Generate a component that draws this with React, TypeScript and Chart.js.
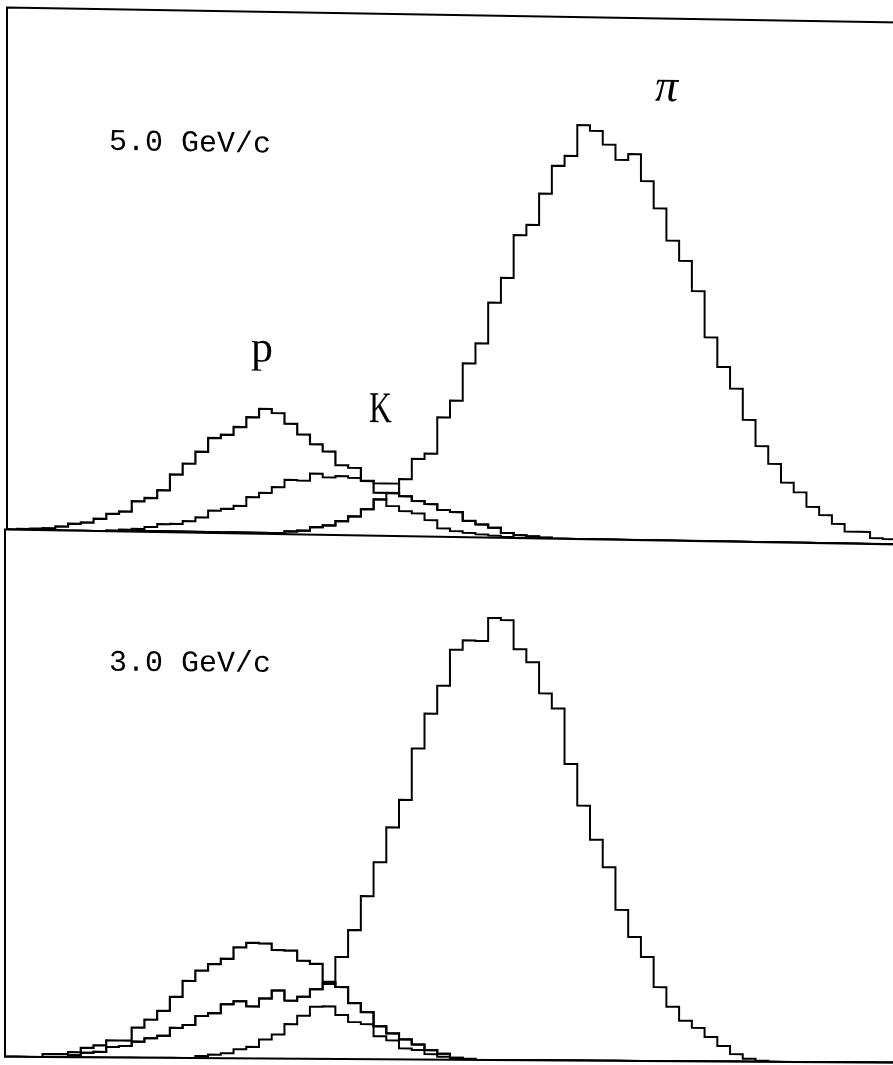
import React, { useEffect, useRef } from "react";
import { Chart, registerables } from "chart.js";

Chart.register(...registerables);

// Bin index range shown on the horizontal axis (bin j spans [j, j+1]).
const X_MIN = 0.2;
const X_MAX = 70.35;
const CANVAS_W = 900;

// 5.0 GeV/c — counts per bin, bins 0..69
const proton5 = [
  0, 1, 1.5, 2, 4, 7, 8.5, 12.5, 17.5, 20, 30.5, 34, 42, 58, 69, 81, 95, 98.5, 106.5, 116.5,
  125, 121, 110.5, 100, 90.5, 83.5, 70, 67.5, 54.5, 43, 43, 40, 35.5, 32.5, 27, 25, 16.5, 13, 10, 5,
  3, 2, 1, 0, 0, 0, 0, 0, 0, 0, 0, 0, 0, 0, 0, 0, 0, 0, 0, 0,
  0, 0, 0, 0, 0, 0, 0, 0, 0, 0,
];
const broad5 = [
  0, 0, 0, 0, 0, 0, 0, 0, 1, 2, 3, 5, 8, 8.5, 11.5, 15.5, 22.5, 24.5, 27.5, 36.5,
  41, 47, 54.5, 54, 61, 57.5, 59, 57.5, 55, 52.5, 52.5, 40, 35.5, 32.5, 27, 25, 16.5, 13, 10, 5,
  3, 2, 1, 0, 0, 0, 0, 0, 0, 0, 0, 0, 0, 0, 0, 0, 0, 0, 0, 0,
  0, 0, 0, 0, 0, 0, 0, 0, 0, 0,
];
const kaon5 = [
  0, 0, 0, 0, 0, 0, 0, 0, 0, 0, 1, 1, 1, 1, 1, 1, 1, 1, 1, 1,
  1, 1, 3, 4, 7.5, 9.5, 14, 19, 26.5, 36.5, 30, 25, 23, 16.5, 8.5, 6, 4.5, 3, 2, 1,
  0, 0, 0, 0, 0, 0, 0, 0, 0, 0, 0, 0, 0, 0, 0, 0, 0, 0, 0, 0,
  0, 0, 0, 0, 0, 0, 0, 0, 0, 0,
];
const pion5 = [
  0, 0, 0, 0, 0, 0, 0, 0, 0, 0, 1, 1, 1, 1, 1, 1, 1, 1, 1, 1,
  1, 1, 3, 4, 7.5, 9.5, 14, 19, 26.5, 36.5, 43, 57, 77.5, 83, 119.5, 136.5, 174, 194, 235, 260,
  303, 313.5, 345, 373, 383, 414, 408.5, 395, 380, 386, 359, 332, 300, 280, 250, 204, 174.5, 153, 122, 96,
  78.5, 60, 50.5, 36, 28, 19.5, 12, 12, 6, 5,
];

// 3.0 GeV/c — counts per bin, bins 0..69
const proton3 = [
  0, 0, 0, 3, 3, 5, 9.5, 12, 17, 17, 30, 38, 47, 61, 77, 87.5, 94, 99.5, 111, 115.5,
  115, 108.5, 108, 98, 95, 77, 72, 56, 47, 33, 26, 20, 15, 9.5, 6, 2, 1, 0, 0, 0,
  0, 0, 0, 0, 0, 0, 0, 0, 0, 0, 0, 0, 0, 0, 0, 0, 0, 0, 0, 0,
  0, 0, 0, 0, 0, 0, 0, 0, 0, 0,
];
const broad3 = [
  0, 0, 0, 0, 0, 2, 4.5, 5.5, 10.5, 11.5, 16, 19.5, 22, 30, 33, 42, 45, 54, 57, 52,
  60, 68, 58, 62, 69.5, 75, 72, 56, 47, 33, 26, 20, 15, 9.5, 6, 2, 1, 0, 0, 0,
  0, 0, 0, 0, 0, 0, 0, 0, 0, 0, 0, 0, 0, 0, 0, 0, 0, 0, 0, 0,
  0, 0, 0, 0, 0, 0, 0, 0, 0, 0,
];
const kaon3 = [
  0, 0, 0, 0, 0, 0, 0, 0, 0, 0, 0, 0, 0, 0, 0, 2, 3.5, 5, 9, 11.5,
  19, 24, 34.5, 43, 52, 52.5, 44, 37, 35, 23, 19, 11, 9.5, 5.5, 3, 1.5, 1, 0, 0, 0,
  0, 0, 0, 0, 0, 0, 0, 0, 0, 0, 0, 0, 0, 0, 0, 0, 0, 0, 0, 0,
  0, 0, 0, 0, 0, 0, 0, 0, 0, 0,
];
const pion3 = [
  0, 0, 0, 0, 0, 2, 4.5, 5.5, 10.5, 11.5, 16, 19.5, 22, 30, 33, 42, 45, 54, 57, 52,
  60, 68, 58, 62, 69.5, 75.5, 102, 129, 163, 197, 232, 259.5, 311, 346, 374, 410, 419.5, 419, 442, 440,
  411, 398, 367, 352, 296.5, 255, 221, 193.5, 151, 124, 104, 74, 54.5, 40.5, 33.5, 24.5, 15.5, 7.5, 3, 1,
  0, 0, 0, 0, 0, 0, 0, 0, 0, 0,
];

type Series = { name: string; values: number[]; width: number };
type TextLabel = { text: string; x: number; y: number; font: string; scaleX?: number };

// Histogram outline: one point per bin's left edge plus a closing point.
function histPoints(values: number[]) {
  const pts = values.map((v, j) => ({ x: j, y: v }));
  pts.push({ x: values.length, y: values[values.length - 1] });
  return pts;
}

// Draws the whole panel with a slight vertical shear (plotter sheet not square),
// plus the frame lines and the text labels.
function panelPlugin(drawTop: boolean, slantDeg: number, labels: TextLabel[]) {
  const k = Math.tan((slantDeg * Math.PI) / 180);
  return {
    id: "panelDecor",
    beforeDraw(chart: any) {
      const ctx = chart.ctx;
      ctx.save();
      ctx.transform(1, k, 0, 1, 0, 0);
    },
    beforeDatasetsDraw(chart: any) {
      const { ctx, chartArea } = chart;
      const { left, right, top, bottom } = chartArea;
      ctx.save();
      ctx.strokeStyle = "#000";
      ctx.lineWidth = 2;
      ctx.lineCap = "butt";
      ctx.beginPath();
      ctx.moveTo(left, top - 1);
      ctx.lineTo(left, bottom);
      ctx.lineTo(right, bottom);
      if (drawTop) {
        ctx.moveTo(left - 1, top);
        ctx.lineTo(right, top);
      }
      ctx.stroke();
      ctx.restore();
    },
    afterDraw(chart: any) {
      const ctx = chart.ctx;
      ctx.fillStyle = "#000";
      ctx.textBaseline = "alphabetic";
      ctx.textAlign = "left";
      for (const l of labels) {
        ctx.save();
        ctx.font = l.font;
        ctx.translate(l.x, l.y);
        ctx.scale(l.scaleX ?? 1, 1);
        ctx.fillText(l.text, 0, 0);
        ctx.restore();
      }
      ctx.restore();
    },
  };
}

type PanelProps = {
  series: Series[];
  top: number;
  height: number;
  padTop: number;
  padBottom: number;
  padLeft: number;
  xMin: number;
  slant: number;
  drawTop: boolean;
  labels: TextLabel[];
};

function Panel({ series, top, height, padTop, padBottom, padLeft, xMin, slant, drawTop, labels }: PanelProps) {
  const ref = useRef<HTMLCanvasElement | null>(null);

  useEffect(() => {
    if (!ref.current) return;
    const yMax = height - padTop - padBottom;
    const chart = new Chart(ref.current, {
      type: "line",
      data: {
        datasets: series.map((s) => ({
          label: s.name,
          data: histPoints(s.values),
          stepped: "before" as const,
          borderColor: "#000",
          borderWidth: s.width,
          pointRadius: 0,
          fill: false,
          tension: 0,
        })),
      },
      options: {
        responsive: false,
        animation: false,
        devicePixelRatio: 1,
        events: [],
        layout: { padding: { left: padLeft, right: 0, top: padTop, bottom: padBottom } },
        plugins: { legend: { display: false }, tooltip: { enabled: false } },
        scales: {
          x: { type: "linear", min: xMin, max: X_MAX, display: false },
          y: { type: "linear", min: 0, max: yMax, display: false },
        },
      },
      plugins: [panelPlugin(drawTop, slant, labels)],
    });
    return () => chart.destroy();
  }, []);

  return (
    <canvas
      ref={ref}
      width={CANVAS_W}
      height={height}
      style={{ position: "absolute", left: 0, top, width: CANVAS_W, height, display: "block" }}
    />
  );
}

const monoFont = '30px "Liberation Mono", "DejaVu Sans Mono", monospace';
const serifFont = '44px "Liberation Serif", "DejaVu Serif", serif';

export default function App() {
  return (
    <div
      style={{
        position: "absolute",
        left: 0,
        top: 0,
        width: 893,
        height: 1065,
        background: "#fff",
        overflow: "hidden",
      }}
    >
      <Panel
        top={0}
        height={560}
        padTop={7.5}
        padBottom={30.5}
        padLeft={7}
        xMin={X_MIN}
        slant={0.95}
        drawTop={true}
        series={[
          { name: "p", values: proton5, width: 2.2 },
          { name: "broad", values: broad5, width: 2 },
          { name: "K", values: kaon5, width: 2 },
          { name: "π", values: pion5, width: 2 },
        ]}
        labels={[
          { text: "5.0 GeV/c", x: 109, y: 148, font: monoFont },
          { text: "p", x: 251, y: 357, font: serifFont },
          { text: "K", x: 369, y: 416, font: serifFont, scaleX: 0.72 },
          { text: "π", x: 655, y: 90, font: 'italic 46px "Liberation Serif", "DejaVu Serif", serif' },
        ]}
      />
      <Panel
        top={520}
        height={545}
        padTop={9.5}
        padBottom={8.3}
        padLeft={5}
        xMin={0.05}
        slant={0.385}
        drawTop={false}
        series={[
          { name: "p", values: proton3, width: 2.2 },
          { name: "broad", values: broad3, width: 2 },
          { name: "K", values: kaon3, width: 2 },
          { name: "π", values: pion3, width: 2 },
        ]}
        labels={[{ text: "3.0 GeV/c", x: 109, y: 150, font: monoFont }]}
      />
    </div>
  );
}
